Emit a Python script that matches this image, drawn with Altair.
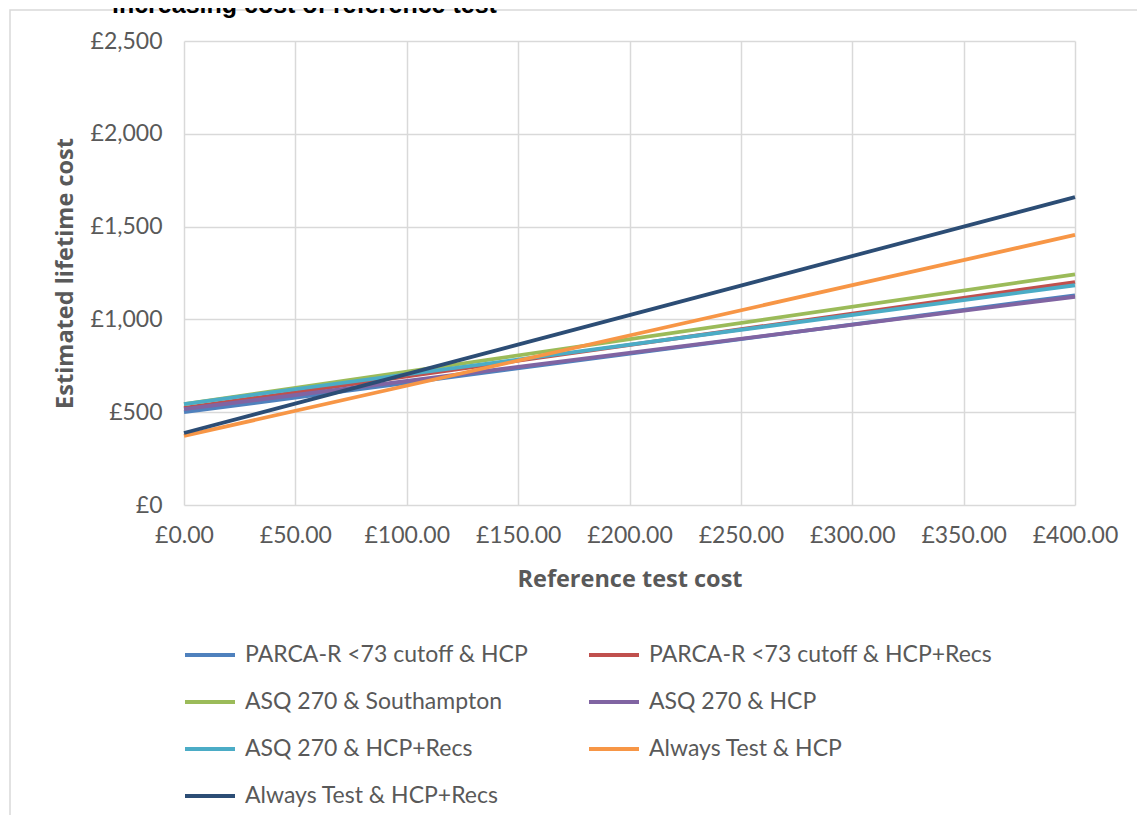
import altair as alt
import pandas as pd

series = [
    "PARCA-R <73 cutoff & HCP",
    "PARCA-R <73 cutoff & HCP+Recs",
    "ASQ 270 & Southampton",
    "ASQ 270 & HCP",
    "ASQ 270 & HCP+Recs",
    "Always Test & HCP",
    "Always Test & HCP+Recs",
]
colors = ["#4F81BD", "#C0504D", "#9BBB59", "#8064A2", "#4BACC6", "#F79646", "#2C4D75"]
test_cost = [0, 400]
cost_at_0 = [500, 523, 544, 517, 544, 372, 388]
cost_at_400 = [1130, 1201, 1243, 1122, 1184, 1455, 1659]

rows = []
for i, s in enumerate(series):
    rows.append({"series": s, "order": i, "x": test_cost[0], "y": cost_at_0[i]})
    rows.append({"series": s, "order": i, "x": test_cost[1], "y": cost_at_400[i]})
df = pd.DataFrame(rows)

W, H = 891, 464
FONT = "Lato"
GRAY = "#595959"

lines = alt.Chart(df).mark_line(strokeWidth=3.8, clip=False).encode(
    x=alt.X("x:Q", scale=alt.Scale(domain=[0, 400], nice=False),
            axis=alt.Axis(values=[0, 50, 100, 150, 200, 250, 300, 350, 400],
                          labelExpr="'£' + format(datum.value, '.2f')",
                          title="Reference test cost",
                          titleY=74, titleBaseline="middle",
                          labelPadding=19, labelFlush=False, labelOverlap=False)),
    y=alt.Y("y:Q", scale=alt.Scale(domain=[0, 2500], nice=False),
            axis=alt.Axis(values=[0, 500, 1000, 1500, 2000, 2500],
                          labelExpr="'£' + format(datum.value, ',')",
                          title="Estimated lifetime cost",
                          titleX=-119, titleY=H / 2, titleAngle=-90,
                          titleBaseline="middle", titleAlign="center",
                          labelPadding=22, labelOverlap=False)),
    color=alt.Color("series:N", sort=series,
                    scale=alt.Scale(domain=series, range=colors),
                    legend=alt.Legend(title=None, orient="none", legendX=-1, legendY=587,
                                      columns=2, direction="horizontal",
                                      symbolType="stroke", symbolSize=2500,
                                      symbolStrokeWidth=4, labelOffset=8,
                                      columnPadding=52, rowPadding=8,
                                      labelFont=FONT, labelFontSize=23,
                                      labelColor=GRAY, padding=0,
                                      labelLimit=500)),
    order="order:Q",
)

border = alt.Chart(pd.DataFrame({"a": [0]})).mark_rect(
    fill=None, stroke="#d9d9d9", strokeWidth=1.5
).encode(x=alt.value(-174), x2=alt.value(1000), y=alt.value(-31), y2=alt.value(900))

title = alt.Chart(pd.DataFrame({"t": ["increasing cost of reference test"]})).mark_text(
    font="Liberation Sans", fontWeight="bold", fontSize=25, align="left",
    baseline="alphabetic", color="#000000"
).encode(text="t:N", x=alt.value(112 - 184), y=alt.value(13 - 41))

chart = alt.layer(border, lines, title).properties(
    width=W, height=H,
    padding={"left": 176, "top": 33, "right": 62, "bottom": 310},
    autosize=alt.AutoSizeParams(type="none"),
).configure_view(stroke=None).configure_axis(
    grid=True, gridColor="#d9d9d9", gridWidth=1.5, domain=False, ticks=False,
    labelFont=FONT, labelFontSize=23, labelColor=GRAY,
    titleFont="Open Sans", titleFontSize=23.5, titleFontWeight="bold", titleColor=GRAY,
)

chart.save("out.html", embed_options={"renderer": "svg", "actions": False})
